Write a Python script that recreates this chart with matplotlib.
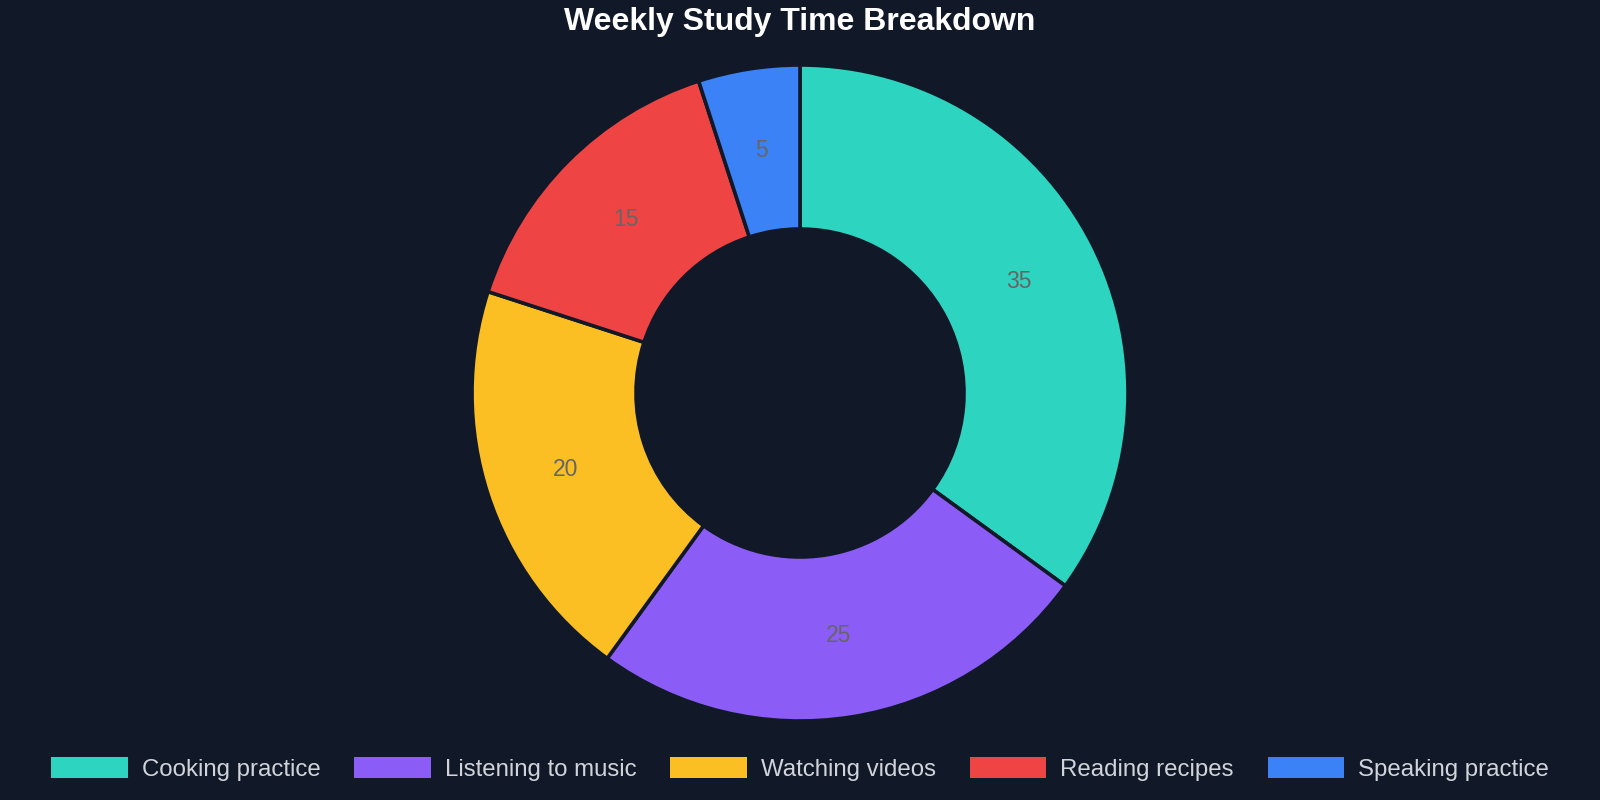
import numpy as np
import matplotlib.pyplot as plt

# Daten
categories = ['Cooking practice', 'Listening to music', 'Watching videos',
              'Reading recipes', 'Speaking practice']
hours = [35, 25, 20, 15, 5]
colors = ['#2dd4bf', '#8b5cf6', '#fbbf24', '#ef4444', '#3b82f6']

bg = '#111827'
plt.rcParams['font.family'] = ['Liberation Sans', 'DejaVu Sans']

fig = plt.figure(figsize=(16, 8), dpi=100, facecolor=bg)

# Achse so legen, dass Mitte bei (800, 393) px und Radius 328 px
r_px = 328
ax = fig.add_axes([(800 - r_px) / 1600, (407 - r_px) / 800,
                   2 * r_px / 1600, 2 * r_px / 800])
ax.set_facecolor(bg)

wedges, texts = ax.pie(hours, colors=colors, startangle=90, counterclock=False,
                       radius=1.0,
                       wedgeprops=dict(width=0.5, edgecolor=bg, linewidth=2.6))

# Werte mittig im Ring
for w, v in zip(wedges, hours):
    ang = np.deg2rad((w.theta1 + w.theta2) / 2)
    ax.text(0.75 * np.cos(ang), 0.75 * np.sin(ang), str(v),
            ha='center', va='center', fontsize=16.5, color='#666666')

ax.set_xlim(-1, 1)
ax.set_ylim(-1, 1)
ax.set_aspect('equal')
ax.axis('off')

fig.text(0.5, 1 - 22 / 800, 'Weekly Study Time Breakdown', ha='center', va='center',
         fontsize=23, fontweight='bold', color='white')

leg = fig.legend(wedges, categories, loc='center', bbox_to_anchor=(0.5, 31 / 800),
                 ncol=5, frameon=False, fontsize=17.3, labelcolor='#d1d5db',
                 handlelength=3.2, handleheight=0.95, handletextpad=0.58,
                 columnspacing=1.4)
for h in leg.legend_handles:
    h.set_linewidth(0)

fig.savefig('out.png', dpi=100, facecolor=bg)
